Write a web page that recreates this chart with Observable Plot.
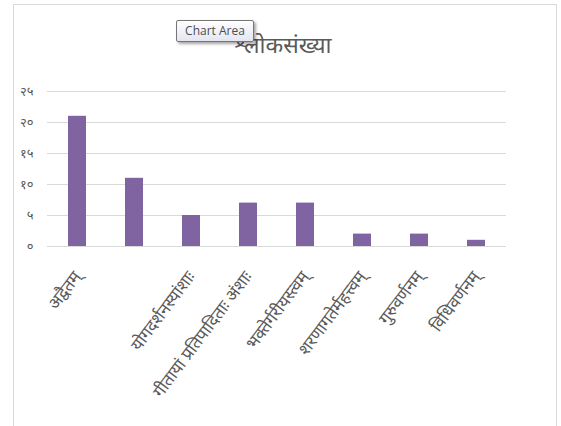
<!DOCTYPE html>
<html>
<head>
<meta charset="utf-8">
<script src="https://cdn.jsdelivr.net/npm/d3@7"></script>
<script src="https://cdn.jsdelivr.net/npm/@observablehq/plot@0.6"></script>
<style>
  html, body { margin: 0; padding: 0; background: #fff; }
  #wrap { position: relative; width: 561px; height: 426px; overflow: hidden; font-family: "Noto Sans", "DejaVu Sans", sans-serif; }
  #frame { position: absolute; left: 13px; top: 4px; width: 544px; height: 440px; border: 1px solid #d9d9d9; box-sizing: border-box; }
  #title { position: absolute; left: 0; width: 566px; top: 28px; text-align: center; font-size: 23px; color: #595959; }
  #tip { position: absolute; left: 176px; top: 20px; width: 78px; height: 22px; box-sizing: border-box; border: 1px solid #767676; border-radius: 2px;
         background: linear-gradient(#ffffff, #e4e5f0); box-shadow: 2px 2px 3px rgba(0,0,0,0.35); font-family: "Open Sans", sans-serif;
         font-size: 12px; color: #4c4c4c; line-height: 20px; text-align: center; }
  #chart { position: absolute; left: 0; top: 0; }
</style>
</head>
<body>
<div id="wrap">
  <div id="frame"></div>
  <div id="chart"></div>
  <div id="title"></div>
  <div id="tip">Chart Area</div>
</div>
<script>
const title = "श्लोकसंख्या";
const categories = [
  "अद्वैतम्",
  "",
  "योगदर्शनस्यांशाः",
  "गीतायां प्रतिपादिताः अंशाः",
  "भक्तेर्गरीयस्त्वम्",
  "शरणागतेर्महत्त्वम्",
  "गुरुवर्णनम्",
  "विधिवर्णनम्"
];
const values = [21, 11, 5, 7, 7, 2, 2, 1];
const yTicks = [0, 5, 10, 15, 20, 25];
const yTickLabels = ["०", "५", "१०", "१५", "२०", "२५"];

const rows = values.map((v, i) => ({idx: i, value: v}));
const idxs = values.map((_, i) => i);

document.getElementById("title").textContent = title;

const chart = Plot.plot({
  width: 561,
  height: 426,
  marginLeft: 47,
  marginRight: 55,
  marginTop: 91,
  marginBottom: 180,
  style: {background: "transparent", fontFamily: "'Noto Sans', 'DejaVu Sans', sans-serif"},
  x: {type: "band", domain: idxs, paddingInner: 0.69, paddingOuter: 0.345, align: 0.5},
  y: {domain: [0, 25]},
  marks: [
    Plot.gridY(yTicks, {stroke: "#d9d9d9", strokeOpacity: 1, strokeWidth: 1}),
    Plot.barY(rows, {x: "idx", y: "value", fill: "#8064a2"}),
    Plot.axisY(yTicks, {
      tickSize: 0, tickPadding: 14, fontSize: 13, fill: "#595959",
      tickFormat: d => yTickLabels[yTicks.indexOf(d)], label: null
    }),
    Plot.axisX(idxs, {
      tickSize: 0, tickPadding: 27, tickRotate: -53, fontSize: 17, fill: "#595959",
      tickFormat: i => categories[i], label: null
    })
  ]
});
document.getElementById("chart").appendChild(chart);
</script>
</body>
</html>
